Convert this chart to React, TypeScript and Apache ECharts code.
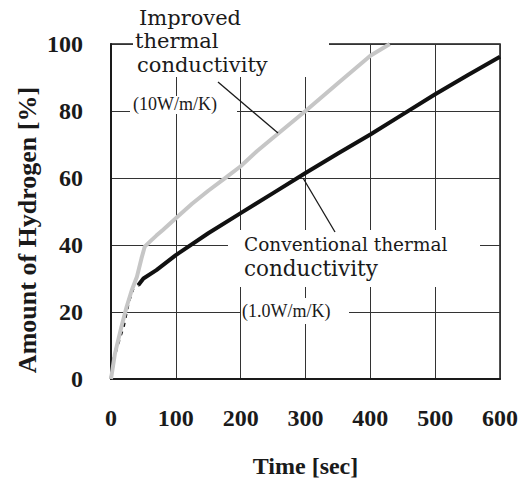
import React, { useEffect, useRef } from "react";
import * as echarts from "echarts";

// ---- data ----
const xTickMin = 0;
const xTickMax = 600;
const xTickStep = 100;
const yTickMin = 0;
const yTickMax = 100;
const yTickStep = 20;

// Conventional thermal conductivity (1.0 W/m/K) – early (dotted) portion
const convEarlyTime = [0, 4, 9, 19, 27, 34, 42];
const convEarlyValue = [0, 5.7, 9.6, 15.6, 23, 27, 28];

// Conventional thermal conductivity (1.0 W/m/K) – main portion
const convTime = [42, 50, 70, 100, 150, 200, 250, 300, 350, 400, 450, 500, 550, 600];
const convValue = [28, 30, 32.5, 37, 43.5, 49.5, 55.5, 61.5, 67.3, 73, 79, 85, 90.7, 96.2];

// Improved thermal conductivity (10 W/m/K)
const improvedTime = [0, 6, 16, 24, 32, 40, 47, 52, 60, 70, 80, 100, 125, 150, 175, 200, 225, 250, 300, 350, 400, 430];
const improvedValue = [0, 7.5, 15.5, 21.5, 26.5, 30.5, 36, 39.5, 41, 42.8, 44.5, 48, 52.3, 56.2, 59.8, 63.5, 68, 72, 80, 88.3, 96.5, 100];

const xAxisTitle = "Time [sec]";
const yAxisTitle = "Amount of Hydrogen [%]";
const improvedLabel = ["Improved", "thermal", "conductivity"];
const improvedUnit = "(10W/m/K)";
const convLabel = ["Conventional thermal", "conductivity"];
const convUnit = "(1.0W/m/K)";

const pair = (xs: number[], ys: number[]) => xs.map((x, i) => [x, ys[i]]);

const SERIF = '"Liberation Serif", "Times New Roman", serif';
const WIDE_SERIF = '"DejaVu Serif", serif';
const INK = "#1a1a1a";

export default function App() {
  const ref = useRef<HTMLDivElement>(null);

  useEffect(() => {
    document.body.style.margin = "0";
    if (!ref.current) return;
    const chart = echarts.init(ref.current, undefined, { renderer: "svg" });

    const txt = (text: string, x: number, y: number, font: string, extra: any = {}) => ({
      type: "text",
      z: 20,
      style: { text, x, y, font, fill: INK, align: "left", verticalAlign: "middle", ...extra },
    });
    const box = (x: number, y: number, width: number, height: number) => ({
      type: "rect",
      z: 15,
      shape: { x, y, width, height },
      style: { fill: "#ffffff" },
    });
    const ptr = (x1: number, y1: number, x2: number, y2: number) => ({
      type: "line",
      z: 25,
      shape: { x1, y1, x2, y2 },
      style: { stroke: INK, lineWidth: 1.3 },
    });

    chart.setOption({
      animation: false,
      backgroundColor: "#ffffff",
      grid: {
        left: 111,
        right: 20,
        top: 44,
        bottom: 104,
        show: true,
        borderColor: INK,
        borderWidth: 1.5,
        backgroundColor: "transparent",
      },
      xAxis: {
        type: "value",
        min: xTickMin,
        max: xTickMax,
        interval: xTickStep,
        name: xAxisTitle,
        nameLocation: "middle",
        nameGap: 75,
        nameTextStyle: { fontFamily: SERIF, fontWeight: "bold", fontSize: 24, color: INK },
        axisLine: { show: true, onZero: false, lineStyle: { color: INK, width: 2 } },
        axisTick: { show: false },
        axisLabel: { fontFamily: SERIF, fontWeight: "bold", fontSize: 24, color: INK, margin: 27 },
        splitLine: { show: true, lineStyle: { color: "#333", width: 1 } },
      },
      yAxis: {
        type: "value",
        min: yTickMin,
        max: yTickMax,
        interval: yTickStep,
        axisLine: { show: true, onZero: false, lineStyle: { color: INK, width: 2 } },
        axisTick: { show: false },
        axisLabel: { fontFamily: SERIF, fontWeight: "bold", fontSize: 24, color: INK, margin: 28 },
        splitLine: { show: true, lineStyle: { color: "#333", width: 1 } },
      },
      series: [
        {
          name: "Conventional (early)",
          type: "line",
          data: pair(convEarlyTime, convEarlyValue),
          showSymbol: false,
          z: 3,
          lineStyle: { color: "#111", width: 3, type: [4, 5] },
        },
        {
          name: "Improved thermal conductivity (10W/m/K)",
          type: "line",
          data: pair(improvedTime, improvedValue),
          showSymbol: false,
          z: 4,
          lineStyle: { color: "#c6c6c6", width: 4 },
        },
        {
          name: "Conventional thermal conductivity (1.0W/m/K)",
          type: "line",
          data: pair(convTime, convValue),
          showSymbol: false,
          z: 5,
          lineStyle: { color: "#111", width: 4 },
        },
      ],
      graphic: [
        // y-axis title
        {
          type: "text",
          z: 20,
          x: 27,
          y: 230,
          rotation: Math.PI / 2,
          style: {
            text: yAxisTitle,
            font: `bold 26px ${SERIF}`,
            fill: INK,
            align: "center",
            verticalAlign: "middle",
          },
        },
        // Improved annotation
        box(133, 0, 196, 77),
        txt(improvedLabel[0], 139, 17.8, `21px ${WIDE_SERIF}`),
        txt(improvedLabel[1], 135, 41.1, `21px ${WIDE_SERIF}`),
        txt(improvedLabel[2], 137, 64.5, `21px ${WIDE_SERIF}`),
        box(130, 96, 107, 18),
        txt(improvedUnit, 133, 104, `18px ${SERIF}`),
        ptr(218, 82, 278, 133),
        // Conventional annotation
        box(228, 230, 252, 57),
        txt(convLabel[0], 244, 244.7, `18.5px ${WIDE_SERIF}`),
        txt(convLabel[1], 244, 268.4, `21.5px ${WIDE_SERIF}`),
        box(241, 298, 108, 26),
        txt(convUnit, 242, 311, `18px ${SERIF}`),
        ptr(303, 178, 335, 232),
      ],
    });

    return () => chart.dispose();
  }, []);

  return (
    <div
      ref={ref}
      style={{ position: "fixed", left: 0, top: 0, width: 521, height: 483, background: "#fff" }}
    />
  );
}
